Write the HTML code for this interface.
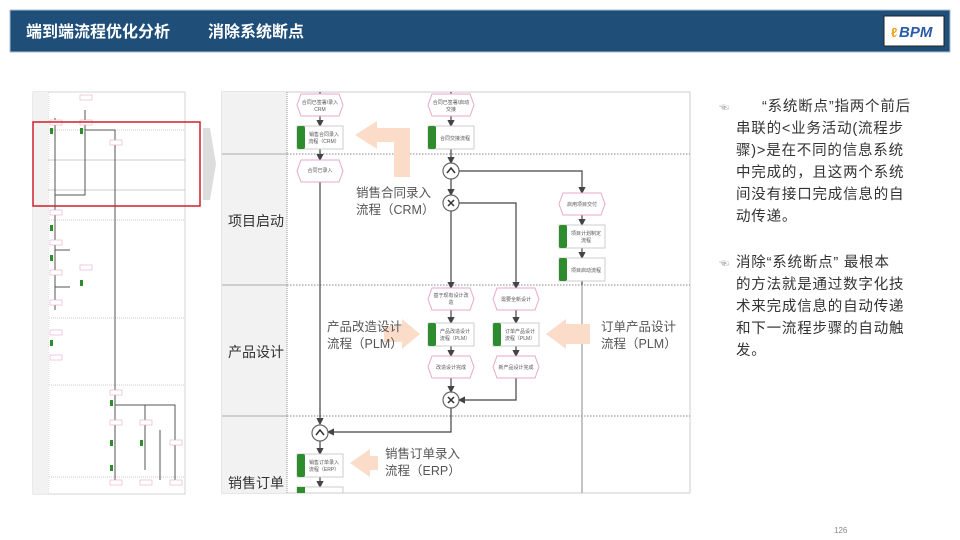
<!DOCTYPE html>
<html><head><meta charset="utf-8"><style>
body{margin:0;width:960px;height:540px;background:#fff;overflow:hidden;font-family:"Liberation Sans","Noto Sans CJK SC",sans-serif}
svg{position:absolute;left:0;top:0}
</style></head><body>
<svg width="960" height="540" viewBox="0 0 960 540" font-family="Liberation Sans, Noto Sans CJK SC, sans-serif">
<defs>
<marker id="ah" markerWidth="6" markerHeight="6" refX="5" refY="3" orient="auto"><path d="M0,0L6,3L0,6z" fill="#444"/></marker>
<g id="hex"><polygon points="4,0 42,0 46,11 42,22 4,22 0,11" fill="#fff" stroke="#e9a8c8" stroke-width="1"/></g>
<g id="task"><rect x="0" y="0" width="46" height="23" fill="#fff" stroke="#ccc"/><rect x="0" y="0" width="8" height="23" fill="#2e8b2e" rx="2"/></g>
</defs>
<!-- header -->
<rect x="10" y="10" width="940" height="42" fill="#1f4e79" stroke="#a9bcd3"/>
<text x="26" y="37" fill="#fff" font-size="16" font-weight="bold">端到端流程优化分析</text>
<text x="208" y="37" fill="#fff" font-size="16" font-weight="bold">消除系统断点</text>
<rect x="884" y="16" width="60" height="30" fill="#fff" stroke="#222"/>
<text x="891" y="37" fill="#f0a020" font-size="13" font-weight="bold">ℓ</text>
<text x="899" y="37" fill="#2a5ba8" font-size="15" font-weight="bold" font-style="italic">BPM</text>

<!-- thumbnail -->
<g stroke="#999" fill="none" stroke-width="0.6">
<rect x="33" y="92" width="152" height="402" stroke="#bbb"/>
<line x1="48" y1="92" x2="48" y2="494" stroke-dasharray="1,1"/>
<line x1="33" y1="130" x2="185" y2="130" stroke-dasharray="1,1"/>
<line x1="33" y1="160" x2="185" y2="160"/>
<line x1="33" y1="190" x2="185" y2="190"/>
<line x1="33" y1="220" x2="185" y2="220" stroke-dasharray="1,1"/>
<line x1="33" y1="318" x2="185" y2="318" stroke-dasharray="1,1"/>
<line x1="33" y1="385" x2="185" y2="385" stroke-dasharray="1,1"/>
<line x1="33" y1="477" x2="185" y2="477" stroke-dasharray="1,1"/>
</g>
<rect x="33" y="92" width="15" height="402" fill="#f2f2f2"/>
<g stroke="#555" fill="none" stroke-width="1">
<path d="M55,118V195H85V130"/><path d="M85,110V175"/><path d="M85,130H115V190"/><path d="M115,150V400"/>
<path d="M55,125V310"/><path d="M55,250H70"/><path d="M55,287H70"/>
<path d="M115,400V480"/><path d="M115,405H175V480"/><path d="M145,405V470"/><path d="M160,430V480"/>
</g>
<g fill="#fff" stroke="#e9a8c8" stroke-width="0.6">
<rect x="80" y="95" width="12" height="5"/><rect x="80" y="120" width="12" height="5"/><rect x="50" y="120" width="12" height="5"/><rect x="110" y="140" width="12" height="5"/>
<rect x="50" y="210" width="12" height="5"/><rect x="50" y="240" width="12" height="5"/><rect x="50" y="270" width="12" height="5"/><rect x="80" y="265" width="12" height="5"/><rect x="50" y="300" width="12" height="5"/><rect x="50" y="330" width="12" height="5"/><rect x="50" y="355" width="12" height="5"/>
<rect x="110" y="390" width="12" height="5"/><rect x="110" y="420" width="12" height="5"/><rect x="140" y="420" width="12" height="5"/><rect x="170" y="440" width="12" height="5"/><rect x="110" y="480" width="12" height="5"/><rect x="140" y="480" width="12" height="5"/><rect x="170" y="480" width="12" height="5"/>
</g>
<g fill="#2e8b2e"><rect x="50" y="128" width="3" height="6"/><rect x="80" y="128" width="3" height="6"/><rect x="50" y="225" width="3" height="6"/><rect x="50" y="255" width="3" height="6"/><rect x="50" y="340" width="3" height="6"/><rect x="110" y="400" width="3" height="6"/><rect x="110" y="440" width="3" height="6"/><rect x="140" y="440" width="3" height="6"/><rect x="80" y="280" width="3" height="6"/><rect x="110" y="465" width="3" height="6"/></g>
<rect x="33" y="122" width="167" height="84" fill="none" stroke="#d0202a" stroke-width="1.5"/>
<polygon points="203,128 210,128 216,164 210,200 203,200" fill="#ddd"/>

<!-- main diagram -->
<rect x="222" y="92" width="468" height="401" fill="#fff" stroke="#ccc"/>
<rect x="222" y="92" width="65" height="401" fill="#f2f2f2"/>
<line x1="287" y1="92" x2="287" y2="493" stroke="#999" stroke-dasharray="1,1"/>
<g stroke="#aaa" stroke-width="1"><line x1="222" y1="154" x2="287" y2="154"/><line x1="222" y1="285" x2="287" y2="285"/><line x1="222" y1="416" x2="287" y2="416"/></g>
<g stroke="#888" stroke-dasharray="1.5,1.5"><line x1="287" y1="154" x2="690" y2="154"/><line x1="287" y1="285" x2="690" y2="285"/><line x1="287" y1="416" x2="690" y2="416"/></g>
<line x1="582" y1="285" x2="582" y2="493" stroke="#888"/>
<g font-size="14" fill="#333"><text x="228" y="226">项目启动</text><text x="228" y="357">产品设计</text><text x="228" y="488">销售订单</text></g>

<g stroke="#444" fill="none" stroke-width="1.2">
<path d="M320,92V94"/><path d="M451,92V94"/>
<path d="M320,116V126" marker-end="url(#ah)"/><path d="M320,149V160" marker-end="url(#ah)"/><path d="M320,181V424" marker-end="url(#ah)"/>
<path d="M451,116V126" marker-end="url(#ah)"/><path d="M451,149V163" marker-end="url(#ah)"/><path d="M451,179V195" marker-end="url(#ah)"/>
<path d="M459,171H582V193" marker-end="url(#ah)"/><path d="M582,215V225" marker-end="url(#ah)"/><path d="M582,248V258" marker-end="url(#ah)"/><path d="M582,281V285"/>
<path d="M459,203H516V288" marker-end="url(#ah)"/><path d="M451,211V288" marker-end="url(#ah)"/>
<path d="M451,308V323" marker-end="url(#ah)"/><path d="M451,346V356" marker-end="url(#ah)"/><path d="M451,378V392" marker-end="url(#ah)"/>
<path d="M516,308V323" marker-end="url(#ah)"/><path d="M516,346V356" marker-end="url(#ah)"/><path d="M516,378V400H459" marker-end="url(#ah)"/>
<path d="M451,408V432H328" marker-end="url(#ah)"/><path d="M320,441V454" marker-end="url(#ah)"/><path d="M320,477V487" marker-end="url(#ah)"/>
</g>
<g font-size="5" fill="#555" text-anchor="middle">
<use href="#hex" x="297" y="94"/><text x="320" y="104">合同已签署/录入</text><text x="320" y="111">CRM</text>
<use href="#task" x="297" y="126"/><text x="324" y="136">销售合同录入</text><text x="324" y="143">流程（CRM）</text>
<use href="#hex" x="297" y="160"/><text x="320" y="172">合同已录入</text>
<use href="#hex" x="428" y="94"/><text x="451" y="104">合同已签署/启动</text><text x="451" y="111">交接</text>
<use href="#task" x="428" y="126"/><text x="455" y="140">合同交接流程</text>
<use href="#hex" x="559" y="193"/><text x="582" y="206">启用项目交付</text>
<use href="#task" x="559" y="225"/><text x="586" y="235">项目计划制定</text><text x="586" y="242">流程</text>
<use href="#task" x="559" y="258"/><text x="586" y="272">项目启动流程</text>
<use href="#hex" x="428" y="288"/><text x="451" y="297">基于现有设计改</text><text x="451" y="304">造</text>
<use href="#task" x="428" y="323"/><text x="455" y="333">产品改造设计</text><text x="455" y="340">流程（PLM）</text>
<use href="#hex" x="428" y="356"/><text x="451" y="369">改造设计完成</text>
<use href="#hex" x="493" y="288"/><text x="516" y="301">需要全新设计</text>
<use href="#task" x="493" y="323"/><text x="520" y="333">订单产品设计</text><text x="520" y="340">流程（PLM）</text>
<use href="#hex" x="493" y="356"/><text x="516" y="369">新产品设计完成</text>
<use href="#task" x="297" y="454"/><text x="324" y="464">销售订单录入</text><text x="324" y="471">流程（ERP）</text>
<rect x="297" y="487" width="46" height="6" fill="#fff" stroke="#ccc"/><rect x="297" y="487" width="8" height="6" fill="#2e8b2e"/>
</g>
<g fill="#fff" stroke="#666" stroke-width="1.2">
<circle cx="451" cy="171" r="8"/><circle cx="451" cy="203" r="8"/><circle cx="451" cy="400" r="8"/><circle cx="320" cy="433" r="8"/>
</g>
<g fill="none" stroke="#333" stroke-width="1.5"><path d="M447,173L451,168L455,173"/><path d="M316,435L320,430L324,435"/><path d="M448,200L454,206M454,200L448,206"/><path d="M448,397L454,403M454,397L448,403"/></g>

<g fill="#fbdcc8">
<polygon points="355,135 377,121 377,128 410,128 410,177 394,177 394,142 377,142 377,149"/>
<polygon points="420,334 402,319 402,326 384,326 384,342 402,342 402,349"/>
<polygon points="546,334 566,319 566,324 590,324 590,344 566,344 566,349"/>
<polygon points="350,463 370,449 370,456 378,456 378,470 370,470 370,477"/>
</g>
<g font-size="12.5" fill="#555">
<text x="356" y="197">销售合同录入</text><text x="356" y="214">流程（CRM）</text>
<text x="327" y="331">产品改造设计</text><text x="327" y="348">流程（PLM）</text>
<text x="601" y="331">订单产品设计</text><text x="601" y="348">流程（PLM）</text>
<text x="385" y="458">销售订单录入</text><text x="385" y="475">流程（ERP）</text>
</g>

<!-- right text -->
<g font-size="14.5" fill="#333" letter-spacing="0.8">
<text x="719" y="111" font-size="10" fill="#999">☜</text>
<text x="762" y="111">“系统断点”指两个前后</text>
<text x="736" y="133">串联的&lt;业务活动(流程步</text>
<text x="736" y="155">骤)&gt;是在不同的信息系统</text>
<text x="736" y="177">中完成的，且这两个系统</text>
<text x="736" y="199">间没有接口完成信息的自</text>
<text x="736" y="221">动传递。</text>
<text x="719" y="267" font-size="10" fill="#999">☜</text>
<text x="736" y="267">消除“系统断点” 最根本</text>
<text x="736" y="289">的方法就是通过数字化技</text>
<text x="736" y="311">术来完成信息的自动传递</text>
<text x="736" y="333">和下一流程步骤的自动触</text>
<text x="736" y="355">发。</text>
</g>
<text x="834" y="533" font-size="8" fill="#888">126</text>
</svg>
</body></html>
